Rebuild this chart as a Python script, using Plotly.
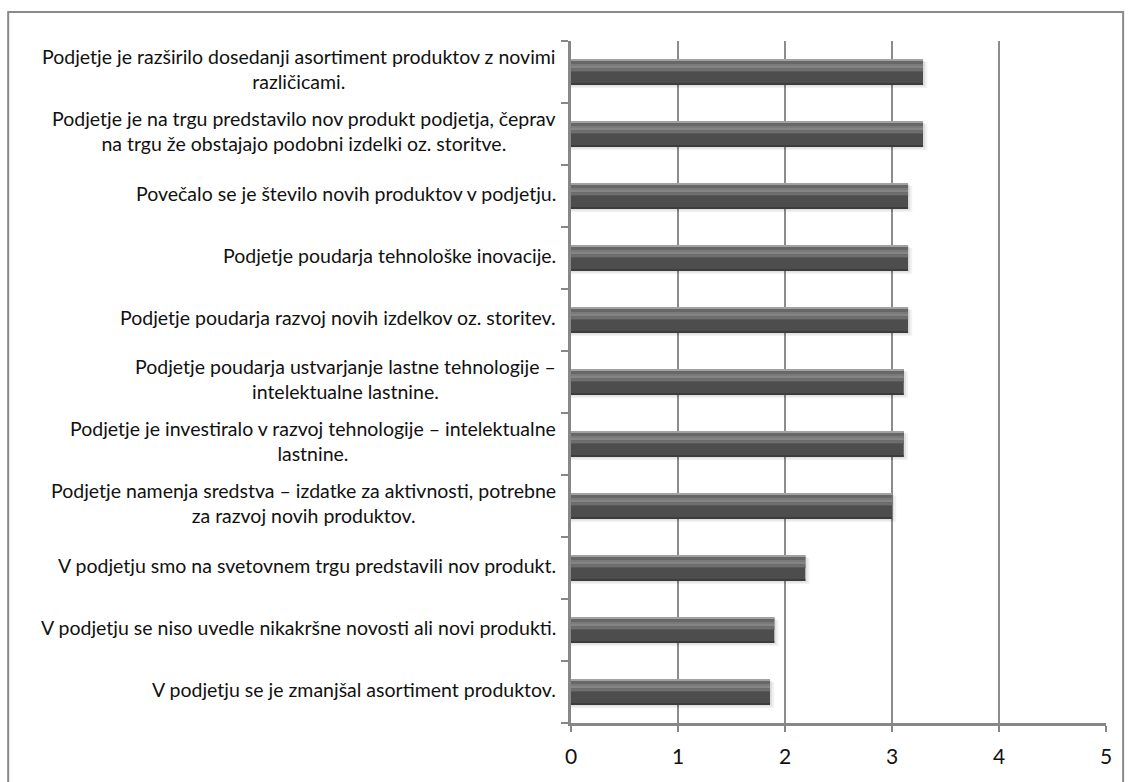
import plotly.graph_objects as go

# Survey statements (top to bottom) and their average scores
statements = [
    "Podjetje je razširilo dosedanji asortiment produktov z novimi<br>različicami.",
    "Podjetje je na trgu predstavilo nov produkt podjetja, čeprav<br>na trgu že obstajajo podobni izdelki oz. storitve.",
    "Povečalo se je število novih produktov v podjetju.",
    "Podjetje poudarja tehnološke inovacije.",
    "Podjetje poudarja razvoj novih izdelkov oz. storitev.",
    "Podjetje poudarja ustvarjanje lastne tehnologije –<br>intelektualne lastnine.",
    "Podjetje je investiralo v razvoj tehnologije – intelektualne<br>lastnine.",
    "Podjetje namenja sredstva – izdatke za aktivnosti, potrebne<br>za razvoj novih produktov.",
    "V podjetju smo na svetovnem trgu predstavili nov produkt.",
    "V podjetju se niso uvedle nikakršne novosti ali novi produkti.",
    "V podjetju se je zmanjšal asortiment produktov.",
]
scores = [3.29, 3.29, 3.15, 3.15, 3.15, 3.11, 3.11, 3.0, 2.19, 1.9, 1.86]
x_ticks = [0, 1, 2, 3, 4, 5]

cats = [f"c{i}" for i in range(len(statements))]

fig = go.Figure()

# stacked strips of grey give each bar its shaded, rounded look
layers = [
    # (bottom offset, top offset, colour, extra length)
    (-0.26, 0.16, "rgba(0,0,0,0.05)", 0.04),
    (-0.235, 0.18, "rgba(0,0,0,0.07)", 0.02),
    (-0.205, 0.205, "#4d4d4d", 0.0),
    (-0.205, -0.19, "#3c3c3c", 0.0),
    (0.0, 0.03, "#5a5a5a", 0.0),
    (0.03, 0.06, "#6e6e6e", 0.0),
    (0.06, 0.095, "#858585", 0.0),
    (0.095, 0.13, "#7a7a7a", 0.0),
    (0.13, 0.19, "#676767", 0.0),
    (0.19, 0.205, "#a2a2a2", 0.0),
]
for lo, hi, col, extra in layers:
    fig.add_trace(go.Bar(
        y=cats, x=[s + extra for s in scores], orientation="h",
        offset=lo, width=hi - lo,
        marker=dict(color=col, line=dict(width=0)),
        hoverinfo="skip", showlegend=False,
    ))

# category labels, centred per line and right-aligned to the axis
for c, text in zip(cats, statements):
    fig.add_annotation(
        x=0, xref="paper", y=c, yref="y", text=text,
        xanchor="right", yanchor="middle", align="center",
        xshift=-13, yshift=3, showarrow=False,
        font=dict(family="Lato", size=19.5, color="#111111"),
    )

# outer chart frame
fig.add_shape(type="rect", xref="paper", yref="paper",
              x0=-1.052, x1=1.032, y0=-0.2, y1=1.0425,
              line=dict(color="#8a8a8a", width=2), layer="below")

fig.update_layout(
    width=1131, height=782,
    margin=dict(l=571, r=25, t=41, b=59),
    paper_bgcolor="white", plot_bgcolor="white",
    barmode="overlay",
    xaxis=dict(
        range=[0, 5], tickvals=x_ticks, ticktext=[str(t) for t in x_ticks],
        showgrid=True, gridcolor="#8c8c8c", gridwidth=2,
        showline=True, linecolor="#878787", linewidth=3,
        ticks="outside", ticklen=6, tickcolor="#878787", tickwidth=2,
        ticklabelstandoff=7,
        tickfont=dict(family="Lato", size=21, color="#111111"),
        zeroline=False, fixedrange=True,
    ),
    yaxis=dict(
        type="category", categoryorder="array", categoryarray=cats[::-1],
        showticklabels=False, showgrid=False,
        showline=True, linecolor="#878787", linewidth=3,
        ticks="outside", tickson="boundaries", ticklen=7,
        tickcolor="#878787", tickwidth=2,
        range=[-0.5, len(cats) - 0.5],
    ),
)

fig.write_html("out.html")
